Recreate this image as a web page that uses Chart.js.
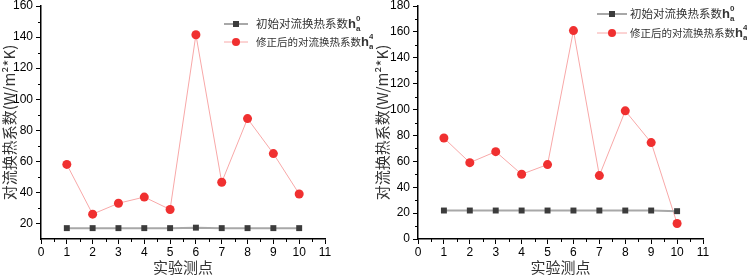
<!DOCTYPE html>
<html>
<head>
<meta charset="utf-8">
<script src="https://cdn.jsdelivr.net/npm/chart.js@4/dist/chart.umd.min.js"></script>
<style>
  body { margin: 0; background: #fff; }
  .wrap { position: absolute; top: 0; height: 276px; }
  #w1 { left: 0; width: 373px; }
  #w2 { left: 373px; width: 374px; }
</style>
</head>
<body>
<div class="wrap" id="w1"><canvas id="c1"></canvas></div>
<div class="wrap" id="w2"><canvas id="c2"></canvas></div>
<script>
// measuring points
const points = [1, 2, 3, 4, 5, 6, 7, 8, 9, 10];
const xTicks = [0, 1, 2, 3, 4, 5, 6, 7, 8, 9, 10, 11];

// left chart
const initLeft = [17, 17, 17, 17, 17, 17.3, 17, 17, 17, 17];
const fixedLeft = [58, 26, 33, 37, 29, 141.5, 46.5, 87.5, 65, 39];
const yTicksLeft = [20, 40, 60, 80, 100, 120, 140, 160];

// right chart
const initRight = [22, 22, 22, 22, 22, 22, 22, 22, 22, 21.5];
const fixedRight = [78, 59, 67.5, 50, 57.5, 161, 49, 99, 74.5, 12];
const yTicksRight = [0, 20, 40, 60, 80, 100, 120, 140, 160, 180];

const label0 = "初始对流换热系数";
const label4 = "修正后的对流换热系数";
const xTitle = "实验测点";
const yTitle = "对流换热系数(W/m²*K)";

const cjk = '"Noto Sans CJK SC", sans-serif';
const latin = '"Liberation Sans", Arial, sans-serif';

// minor ticks + legend drawn by hand
const extras = {
  id: "extras",
  afterDraw(chart, args, opts) {
    const ctx = chart.ctx;
    ctx.save();
    ctx.strokeStyle = "#000";
    ctx.lineWidth = 1;
    const xs = chart.scales.x, ys = chart.scales.y;
    for (let v = 0.5; v < 11; v += 1) {
      const px = Math.round(xs.getPixelForValue(v)) + 0.5;
      ctx.beginPath();
      ctx.moveTo(px, xs.top);
      ctx.lineTo(px, xs.top + 3);
      ctx.stroke();
    }
    for (let v = opts.minorStart; v < ys.max; v += 20) {
      const py = Math.round(ys.getPixelForValue(v)) + 0.5;
      ctx.beginPath();
      ctx.moveTo(ys.right, py);
      ctx.lineTo(ys.right - 3, py);
      ctx.stroke();
    }

    // legend
    const lg = opts.legend;
    const rows = [
      { text: label0, sup: "0", size: 11.5, line: "#a8a8a8", lw: 2, mark: "#3c3c3c", rect: true },
      { text: label4, sup: "4", size: 10.5, line: "#f8a8a8", lw: 1, mark: "#f03030", rect: false }
    ];
    rows.forEach((r, i) => {
      const y = lg.y + i * lg.gap;
      ctx.strokeStyle = r.line;
      ctx.lineWidth = r.lw;
      ctx.beginPath();
      ctx.moveTo(lg.x, y);
      ctx.lineTo(lg.x + lg.len, y);
      ctx.stroke();
      ctx.fillStyle = r.mark;
      const mx = lg.x + lg.len / 2;
      if (r.rect) {
        ctx.fillRect(mx - 3, y - 3, 6, 6);
      } else {
        ctx.beginPath();
        ctx.arc(mx, y, 4, 0, Math.PI * 2);
        ctx.fill();
      }
      ctx.fillStyle = "#333";
      ctx.textBaseline = "middle";
      ctx.textAlign = "left";
      ctx.font = r.size + "px " + cjk;
      let tx = lg.x + lg.len + lg.pad;
      ctx.fillText(r.text, tx, y);
      tx += ctx.measureText(r.text).width;
      ctx.font = "bold 13px " + latin;
      ctx.fillText("h", tx, y);
      tx += ctx.measureText("h").width;
      ctx.font = "bold 8px " + latin;
      ctx.fillText("a", tx, y + 5);
      ctx.fillText(r.sup, tx, y - 5);
    });
    ctx.restore();
  }
};

function makeChart(id, init, fixed, yMin, yMax, yTicks, yWidth, padRight, minorStart, legend) {
  const ctx = document.getElementById(id).getContext("2d");
  return new Chart(ctx, {
    type: "line",
    data: {
      datasets: [
        {
          label: label0,
          data: points.map((p, i) => ({ x: p, y: init[i] })),
          borderColor: "#a8a8a8",
          borderWidth: 2,
          pointStyle: "rect",
          pointRadius: 4.2,
          pointBackgroundColor: "#3c3c3c",
          pointBorderColor: "#3c3c3c",
          pointBorderWidth: 0
        },
        {
          label: label4,
          data: points.map((p, i) => ({ x: p, y: fixed[i] })),
          borderColor: "#f8a8a8",
          borderWidth: 1,
          pointStyle: "circle",
          pointRadius: 4.5,
          pointBackgroundColor: "#f03030",
          pointBorderColor: "#f03030",
          pointBorderWidth: 0
        }
      ]
    },
    options: {
      responsive: true,
      maintainAspectRatio: false,
      animation: false,
      layout: { padding: { top: 6, right: padRight, left: 0, bottom: 0 } },
      plugins: {
        legend: { display: false },
        tooltip: { enabled: false },
        extras: { minorStart: minorStart, legend: legend }
      },
      scales: {
        x: {
          type: "linear",
          min: 0,
          max: 11,
          afterBuildTicks: s => { s.ticks = xTicks.map(v => ({ value: v })); },
          afterFit: s => { s.height = 37; s.paddingLeft = 0; s.paddingRight = 0; },
          border: { display: true, color: "#000", width: 1.5 },
          grid: { drawOnChartArea: false, drawTicks: true, tickLength: 5, color: "#000" },
          ticks: { font: { family: latin, size: 12 }, color: "#000", padding: 1, maxRotation: 0 },
          title: { display: true, text: xTitle, font: { family: cjk, size: 15 }, color: "#333", padding: { top: 0, bottom: 0 } }
        },
        y: {
          min: yMin,
          max: yMax,
          afterBuildTicks: s => { s.ticks = yTicks.map(v => ({ value: v })); },
          afterFit: s => { s.width = yWidth; s.paddingTop = 0; s.paddingBottom = 0; },
          border: { display: true, color: "#000", width: 1.5 },
          grid: { drawOnChartArea: false, drawTicks: true, tickLength: 5, color: "#000" },
          ticks: { font: { family: latin, size: 12 }, color: "#000", padding: 3 },
          title: { display: true, text: yTitle, font: { family: cjk, size: 15 }, color: "#333", padding: { top: 0, bottom: 2 } }
        }
      }
    },
    plugins: [extras]
  });
}

makeChart("c1", initLeft, fixedLeft, 10, 160, yTicksLeft, 41, 48, 30,
  { x: 224, y: 24, gap: 18, len: 24, pad: 8 });
makeChart("c2", initRight, fixedRight, 0, 180, yTicksRight, 45, 44, 10,
  { x: 224, y: 14, gap: 19, len: 30, pad: 3 });
</script>
</body>
</html>
